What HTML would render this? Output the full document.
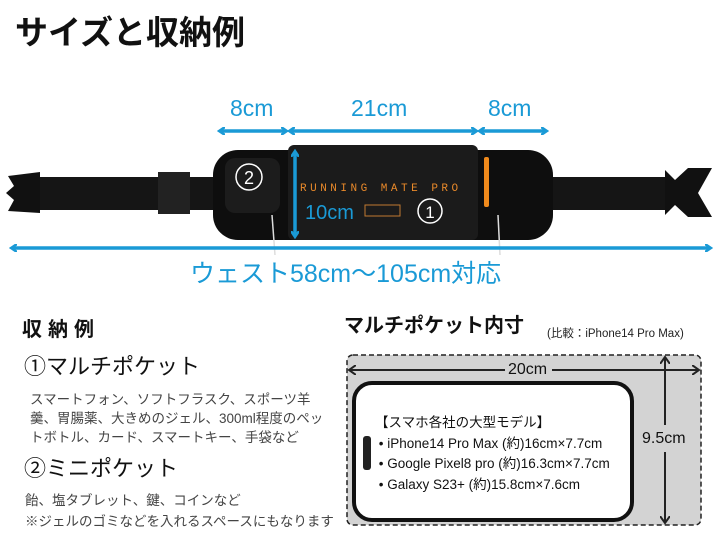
<!DOCTYPE html>
<html><head><meta charset="utf-8"><style>
body{margin:0;width:720px;height:540px;background:#fff;position:relative;overflow:hidden;font-family:"Liberation Sans","Noto Sans CJK JP",sans-serif;}
.a{position:absolute;white-space:nowrap;line-height:1;}
.b{color:#1a9ad6;}
.t{color:#444;font-size:13.5px;}
</style></head><body>
<svg width="720" height="540" style="position:absolute;left:0;top:0">
<defs>
<marker id="m" markerWidth="8" markerHeight="8" refX="5" refY="4" orient="auto-start-reverse" markerUnits="userSpaceOnUse"><path d="M0,0 L6,4 L0,8" fill="none" stroke="#1a9ad6" stroke-width="2.5"/></marker>
<marker id="k" markerWidth="10" markerHeight="10" refX="6" refY="5" orient="auto-start-reverse" markerUnits="userSpaceOnUse"><path d="M0,0 L7,5 L0,10" fill="none" stroke="#222" stroke-width="2"/></marker>
</defs>
<rect x="30" y="177" width="640" height="33" fill="#151515"/>
<rect x="158" y="172" width="32" height="42" fill="#222"/>
<rect x="510" y="172" width="30" height="42" fill="#222"/>
<path d="M8,176 L40,172 L40,213 L8,211 L14,200 L6,193 L14,186 Z" fill="#111"/>
<path d="M665,170 L675,180 L688,168 L712,168 L698,193 L712,217 L688,217 L675,205 L665,215 Z" fill="#111"/>
<rect x="213" y="150" width="340" height="90" rx="25" fill="#0e0e0e"/>
<rect x="288" y="145" width="190" height="95" rx="6" fill="#1b1b1b"/>
<rect x="225" y="158" width="55" height="55" rx="10" fill="#1c1c1c"/>
<circle cx="249" cy="177" r="13" fill="none" stroke="#fff" stroke-width="1.5"/>
<text x="249" y="184" font-size="18" fill="#fff" text-anchor="middle" font-family="Liberation Sans">2</text>
<circle cx="430" cy="211" r="12" fill="none" stroke="#fff" stroke-width="1.5"/>
<text x="430" y="218" font-size="17" fill="#fff" text-anchor="middle" font-family="Liberation Sans">1</text>
<text x="300" y="191" font-size="11" fill="#e8892a" letter-spacing="3.5" font-family="Liberation Mono">RUNNING MATE PRO</text>
<rect x="365" y="205" width="35" height="11" fill="none" stroke="#c07a30" stroke-width="1"/>
<rect x="484" y="157" width="5" height="50" rx="2" fill="#f08a1c"/>
<line x1="272" y1="215" x2="275" y2="255" stroke="#ddd" stroke-width="1.5"/>
<line x1="498" y1="215" x2="500" y2="255" stroke="#ddd" stroke-width="1.5"/>
<g stroke="#1a9ad6" stroke-width="3.5" fill="none">
<line x1="220" y1="131" x2="286" y2="131" marker-start="url(#m)" marker-end="url(#m)"/>
<line x1="290" y1="131" x2="476" y2="131" marker-start="url(#m)" marker-end="url(#m)"/>
<line x1="480" y1="131" x2="546" y2="131" marker-start="url(#m)" marker-end="url(#m)"/>
<line x1="12" y1="248" x2="710" y2="248" marker-start="url(#m)" marker-end="url(#m)"/>
<line x1="295" y1="152" x2="295" y2="236" marker-start="url(#m)" marker-end="url(#m)"/>
</g>
<rect x="347" y="355" width="354" height="170" rx="6" fill="#d3d3d3" stroke="#222" stroke-width="1.5" stroke-dasharray="5,3"/>
<rect x="354" y="383" width="278" height="137" rx="18" fill="#fff" stroke="#111" stroke-width="4"/>
<rect x="363" y="436" width="8" height="34" rx="3" fill="#222"/>
<g stroke="#222" stroke-width="2" fill="none">
<line x1="350" y1="370" x2="505" y2="370" marker-start="url(#k)"/>
<line x1="552" y1="370" x2="698" y2="370" marker-end="url(#k)"/>
<line x1="665" y1="358" x2="665" y2="425" marker-start="url(#k)"/>
<line x1="665" y1="452" x2="665" y2="522" marker-end="url(#k)"/>
</g>
</svg>
<div class="a" style="left:15px;top:16px;font-size:33px;font-weight:bold;color:#111">サイズと収納例</div>
<div class="a b" style="left:230px;top:97px;font-size:23px">8cm</div>
<div class="a b" style="left:351px;top:97px;font-size:23px">21cm</div>
<div class="a b" style="left:488px;top:97px;font-size:23px">8cm</div>
<div class="a b" style="left:305px;top:203px;font-size:20px">10cm</div>
<div class="a b" style="left:190px;top:262px;font-size:25px">ウェスト58cm〜105cm対応</div>
<div class="a" style="left:22px;top:320px;font-size:20px;font-weight:bold;color:#111;letter-spacing:6px">収納例</div>
<div class="a" style="left:24px;top:356px;font-size:22px;color:#111">①マルチポケット</div>
<div class="a t" style="left:30px;top:390px;line-height:19px">スマートフォン、ソフトフラスク、スポーツ羊<br>羹、胃腸薬、大きめのジェル、300ml程度のペッ<br>トボトル、カード、スマートキー、手袋など</div>
<div class="a" style="left:24px;top:458px;font-size:22px;color:#111">②ミニポケット</div>
<div class="a t" style="left:25px;top:490px;line-height:21px">飴、塩タブレット、鍵、コインなど<br>※ジェルのゴミなどを入れるスペースにもなります</div>
<div class="a" style="left:344px;top:316px;font-size:20px;font-weight:bold;color:#111">マルチポケット内寸</div>
<div class="a" style="left:547px;top:329px;font-size:11.5px;color:#222">(比較：iPhone14 Pro Max)</div>
<div class="a" style="left:507px;top:362px;font-size:16px;color:#111;background:#d3d3d3;padding:0 1px">20cm</div>
<div class="a" style="left:642px;top:431px;font-size:16px;color:#111">9.5cm</div>
<div class="a" style="left:375px;top:413px;font-size:13.5px;color:#111;line-height:20.5px">【スマホ各社の大型モデル】<br>&nbsp;• iPhone14 Pro Max (約)16cm×7.7cm<br>&nbsp;• Google Pixel8 pro (約)16.3cm×7.7cm<br>&nbsp;• Galaxy S23+ (約)15.8cm×7.6cm</div>
</body></html>
